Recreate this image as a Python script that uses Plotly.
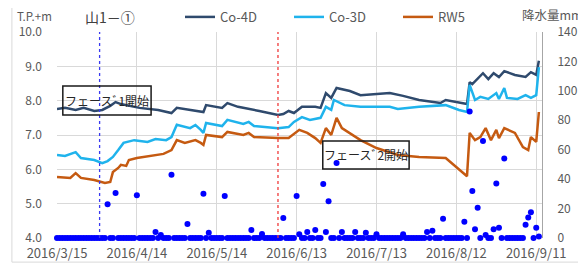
import plotly.graph_objects as go
import pandas as pd

# ---------------- data ----------------
co4d_dates = ["2016-03-15", "2016-03-18", "2016-03-22", "2016-03-25", "2016-03-29", "2016-04-01",
              "2016-04-04", "2016-04-06", "2016-04-08", "2016-04-15", "2016-04-22", "2016-04-27",
              "2016-04-29", "2016-05-04", "2016-05-09", "2016-05-10", "2016-05-16", "2016-05-18",
              "2016-05-22", "2016-05-30", "2016-06-06", "2016-06-08", "2016-06-10", "2016-06-12",
              "2016-06-15", "2016-06-20", "2016-06-22", "2016-06-24", "2016-06-26", "2016-06-28",
              "2016-07-03", "2016-07-07", "2016-07-14", "2016-07-18", "2016-07-23", "2016-07-29",
              "2016-08-06", "2016-08-08", "2016-08-16", "2016-08-17", "2016-08-18", "2016-08-22",
              "2016-08-24", "2016-08-26", "2016-08-28", "2016-08-30", "2016-09-03", "2016-09-07",
              "2016-09-09", "2016-09-11", "2016-09-12"]
co4d_values = [7.76, 7.79, 7.73, 7.79, 7.70, 7.73,
               7.85, 7.96, 7.90, 7.79, 7.73, 7.64,
               7.79, 7.73, 7.67, 7.87, 7.79, 7.93,
               7.82, 7.70, 7.58, 7.61, 7.70, 7.64,
               7.82, 7.82, 7.79, 8.22, 8.08, 8.37,
               8.28, 8.16, 8.19, 8.22, 8.14, 8.02,
               7.93, 8.02, 7.90, 8.54, 8.48, 8.80,
               8.63, 8.80, 8.69, 8.86, 8.75, 8.69,
               8.83, 8.75, 9.16]

co3d_dates = ["2016-03-15", "2016-03-18", "2016-03-22", "2016-03-24", "2016-03-29", "2016-04-01",
              "2016-04-03", "2016-04-05", "2016-04-07", "2016-04-09", "2016-04-13", "2016-04-18",
              "2016-04-21", "2016-04-25", "2016-04-27", "2016-04-28", "2016-04-29", "2016-05-04",
              "2016-05-06", "2016-05-08", "2016-05-09", "2016-05-10", "2016-05-16", "2016-05-18",
              "2016-05-24", "2016-05-26", "2016-05-28", "2016-06-06", "2016-06-10", "2016-06-12",
              "2016-06-15", "2016-06-18", "2016-06-22", "2016-06-24", "2016-06-26", "2016-06-27",
              "2016-07-01", "2016-07-07", "2016-07-14", "2016-07-18", "2016-07-21", "2016-07-29",
              "2016-08-08", "2016-08-13", "2016-08-16", "2016-08-17", "2016-08-19", "2016-08-21",
              "2016-08-24", "2016-08-27", "2016-08-28", "2016-08-30", "2016-08-31", "2016-09-04",
              "2016-09-07", "2016-09-09", "2016-09-11", "2016-09-12"]
co3d_values = [6.42, 6.39, 6.50, 6.33, 6.27, 6.18,
               6.24, 6.36, 6.56, 6.77, 6.85, 6.80,
               6.88, 6.85, 6.94, 7.10, 7.30, 7.20,
               7.29, 7.15, 7.06, 7.35, 7.26, 7.44,
               7.32, 7.38, 7.26, 7.20, 7.23, 7.38,
               7.52, 7.44, 7.50, 7.82, 7.73, 8.02,
               7.87, 7.82, 7.82, 7.82, 7.76, 7.82,
               7.87, 7.73, 7.67, 8.46, 8.02, 8.11,
               8.05, 8.22, 8.05, 8.37, 8.08, 8.05,
               8.16, 8.08, 8.16, 8.98]

rw5_dates = ["2016-03-15", "2016-03-20", "2016-03-22", "2016-03-24", "2016-03-29", "2016-04-02",
             "2016-04-04", "2016-04-05", "2016-04-07", "2016-04-08", "2016-04-10", "2016-04-11",
             "2016-04-14", "2016-04-21", "2016-04-24", "2016-04-27", "2016-04-29", "2016-05-02",
             "2016-05-06", "2016-05-08", "2016-05-09", "2016-05-10", "2016-05-16", "2016-05-18",
             "2016-05-24", "2016-05-26", "2016-05-28", "2016-06-06", "2016-06-10", "2016-06-14",
             "2016-06-17", "2016-06-20", "2016-06-22", "2016-06-24", "2016-06-26", "2016-06-28",
             "2016-06-30", "2016-07-07", "2016-07-13", "2016-07-21", "2016-07-29", "2016-08-08",
             "2016-08-15", "2016-08-16", "2016-08-17", "2016-08-19", "2016-08-21", "2016-08-23",
             "2016-08-25", "2016-08-27", "2016-08-28", "2016-08-30", "2016-09-03", "2016-09-06",
             "2016-09-08", "2016-09-09", "2016-09-11", "2016-09-12"]
rw5_values = [5.78, 5.75, 5.89, 5.75, 5.69, 5.60,
              5.63, 5.92, 6.04, 6.13, 6.10, 6.27,
              6.33, 6.42, 6.45, 6.56, 6.85, 6.77,
              6.85, 6.77, 6.71, 7.00, 6.94, 7.09,
              7.00, 7.06, 6.94, 6.91, 6.91, 7.15,
              7.06, 6.91, 6.77, 7.20, 7.00, 7.50,
              7.20, 6.85, 6.62, 6.42, 6.36, 6.33,
              5.89, 5.80, 7.06, 6.85, 6.94, 7.20,
              6.85, 7.15, 6.91, 7.20, 7.06, 6.65,
              6.56, 6.94, 6.80, 7.67]

# daily precipitation (mm), 2016-03-15 .. 2016-09-12
rain_start = "2016-03-15"
rain_mm = [0, 0, 0, 0, 0, 0, 0, 0, 0, 0,
           0, 0, 0, 0, 0, 0, 0, 0, 0, 23,
           0, 0, 30.5, 0, 0, 0, 0, 0, 0, 0,
           29, 0, 0, 0, 0, 0, 0, 4, 0, 2,
           0, 0, 0, 43, 0, 0, 0, 0, 0, 9.5,
           0, 0, 0, 0, 0, 30, 0, 3.5, 0, 0,
           0, 0, 0, 28.5, 0, 0, 0, 0, 0, 0,
           0, 0, 0, 5.5, 0, 0, 0, 2.7, 0, 0,
           0, 0, 0, 0, 0, 13.6, 0, 0, 0, 0,
           28.5, 2.5, 0, 0, 4, 0, 0, 5.4, 0, 0,
           36.7, 4, 25, 0, 0, 51, 0, 4, 0, 0,
           0, 0, 4, 0, 0, 0, 3.5, 0, 0, 0,
           2.5, 0, 0, 0, 0, 0, 0, 0, 0, 0,
           2.5, 0, 0, 0, 0, 0, 0, 0, 0, 4,
           0, 5, 0, 0, 0, 13, 0, 0, 0, 0,
           0, 0, 0, 11, 0, 86, 32, 6, 20.5, 0,
           66, 2, 0, 0, 6, 37, 7, 0, 54, 0,
           0, 0, 0, 0, 0, 0, 9, 14, 17.5, 0,
           7, 1]
rain_dates = pd.date_range(rain_start, periods=len(rain_mm), freq="D")

x_tick_dates = ["2016-03-15", "2016-04-14", "2016-05-14", "2016-06-13",
                "2016-07-13", "2016-08-12", "2016-09-11"]
x_tick_labels = ["2016/3/15", "2016/4/14", "2016/5/14", "2016/6/13",
                 "2016/7/13", "2016/8/12", "2016/9/11"]

phase_dates = ["2016-03-31", "2016-06-06"]
phase_labels = ["フェースﾞ1開始", "フェースﾞ2開始"]

series_names = ["Co-4D", "Co-3D", "RW5"]
chart_title = "山1－①"
left_title = "T.P.+m"
right_title = "降水量mm"

# ---------------- figure ----------------
FONT = "Noto Sans CJK JP, Noto Sans, sans-serif"
GRID = "#D9D9D9"
TXT = "#595959"

fig = go.Figure()
colors = ["#2F4A6D", "#1FB3EC", "#C55A11"]
for name, xs, ys, c in zip(series_names,
                           [co4d_dates, co3d_dates, rw5_dates],
                           [co4d_values, co3d_values, rw5_values],
                           colors):
    fig.add_trace(go.Scatter(x=xs, y=ys, name=name, mode="lines",
                             line=dict(color=c, width=2.5)))

fig.add_trace(go.Scatter(x=rain_dates, y=rain_mm, yaxis="y2", mode="markers",
                         marker=dict(color="#0000FF", size=6), showlegend=False,
                         cliponaxis=False, name="降水量"))

# the page body adds an 8px offset, so the figure is 8px smaller than the window
fig.update_layout(
    width=578, height=256,
    margin=dict(l=49, r=44, t=24, b=26, autoexpand=False),
    paper_bgcolor="white", plot_bgcolor="white",
    font=dict(family=FONT, color=TXT),
    showlegend=True,
    legend=dict(orientation="h", xref="container", yref="container",
                x=0.2976, y=0.965, xanchor="left", yanchor="middle",
                entrywidth=64, entrywidthmode="pixels", itemwidth=30,
                font=dict(size=13, color=TXT), bgcolor="rgba(0,0,0,0)",
                tracegroupgap=0),
    xaxis=dict(type="date", range=["2016-03-15", "2016-09-13 04:00"],
               tickvals=x_tick_dates, ticktext=x_tick_labels, automargin=False,
               showgrid=True, gridcolor=GRID, gridwidth=1, zeroline=False,
               showline=False, ticks="", tickfont=dict(size=13, color=TXT),
               ticklabelstandoff=6),
    yaxis=dict(range=[4, 10], dtick=1, tickformat=".1f", showgrid=True, automargin=False,
               gridcolor=GRID, zeroline=False, showline=False, ticks="",
               tickfont=dict(size=12, color=TXT), ticklabelstandoff=14),
    yaxis2=dict(range=[0, 140], dtick=20, overlaying="y", side="right", automargin=False,
                showgrid=False, zeroline=False, showline=True, linecolor="#A6A6A6",
                linewidth=1, ticks="", tickfont=dict(size=12, color=TXT),
                ticklabelstandoff=12),
)

# phase start lines
for d, c in zip(phase_dates, ["#3A3AF0", "#F03A3A"]):
    fig.add_shape(type="line", xref="x", yref="paper", x0=d, x1=d, y0=0, y1=1,
                  line=dict(color=c, width=1.3, dash="dot"))

# phase label boxes
boxes = [(0.012, 0.597, 0.194, 0.738), (0.548, 0.335, 0.726, 0.471)]
for (x0, y0, x1, y1), lab in zip(boxes, phase_labels):
    fig.add_shape(type="rect", xref="paper", yref="paper", x0=x0, y0=y0, x1=x1, y1=y1,
                  line=dict(color="#1A1A1A", width=1.5), fillcolor="rgba(0,0,0,0)")
    fig.add_annotation(xref="paper", yref="paper", x=(x0 + x1) / 2, y=(y0 + y1) / 2,
                       text=lab, showarrow=False, xanchor="center", yanchor="middle",
                       font=dict(size=12, color="#262626", family=FONT))

# chart outer border
fig.add_shape(type="rect", xref="paper", yref="paper", x0=-0.093, y0=-0.117,
              x1=1.2, y1=1.141, line=dict(color="#D9D9D9", width=1), layer="below")

# titles
fig.add_annotation(xref="paper", yref="paper", x=-0.087, y=1.08, text=left_title,
                   showarrow=False, xanchor="left", yanchor="middle",
                   font=dict(size=11.5, color=TXT))
fig.add_annotation(xref="paper", yref="paper", x=0.054, y=1.073, text=chart_title,
                   showarrow=False, xanchor="left", yanchor="middle",
                   font=dict(size=14, color="#404040"))
fig.add_annotation(xref="paper", yref="paper", x=1.0887, y=1.083, text=right_title,
                   showarrow=False, xanchor="right", yanchor="middle",
                   font=dict(size=12.5, color=TXT))

fig.write_html("out.html")
